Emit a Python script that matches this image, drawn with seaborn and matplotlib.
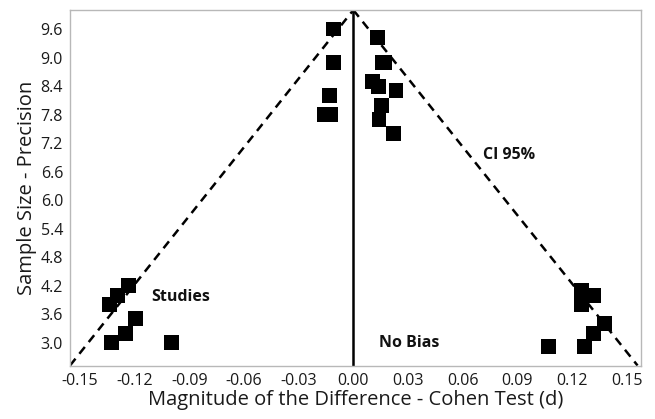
import matplotlib
matplotlib.use("Agg")
import matplotlib.pyplot as plt
import seaborn as sns
import numpy as np
import pandas as pd

# Studies: effect size (Cohen d) and precision
effect_d = [-0.011, -0.011, -0.013, -0.016, -0.0126,
            0.0132, 0.0158, 0.0174, 0.0106, 0.0137, 0.0234, 0.0156, 0.0141, 0.022,
            -0.1235, -0.1296, -0.134, -0.1198, -0.125, -0.1327, -0.0997,
            0.1253, 0.1253, 0.132, 0.138, 0.132, 0.127, 0.107]
precision = [9.6, 8.9, 8.2, 7.8, 7.8,
             9.42, 8.9, 8.9, 8.5, 8.4, 8.3, 8.0, 7.7, 7.4,
             4.2, 4.0, 3.8, 3.5, 3.2, 3.0, 3.0,
             4.1, 3.8, 4.0, 3.4, 3.2, 2.92, 2.92]

# 95% CI funnel lines
ci_left_x = [-0.1555, 0.0]
ci_left_y = [2.52, 10.0]
ci_right_x = [0.0, 0.156]
ci_right_y = [10.0, 2.52]

x_ticks = [-0.15, -0.12, -0.09, -0.06, -0.03, 0.00, 0.03, 0.06, 0.09, 0.12, 0.15]
y_ticks = [3.0, 3.6, 4.2, 4.8, 5.4, 6.0, 6.6, 7.2, 7.8, 8.4, 9.0, 9.6]

sns.set_theme(style="white")
plt.rcParams['font.family'] = ['Open Sans', 'DejaVu Sans']

fig = plt.figure(figsize=(6.55, 4.19), dpi=100)
ax = fig.add_axes([0.1069, 0.1272, 0.8712, 0.8489])

df = pd.DataFrame({"d": effect_d, "p": precision})
ci_l = pd.DataFrame({"x": ci_left_x, "y": ci_left_y})
ci_r = pd.DataFrame({"x": ci_right_x, "y": ci_right_y})

sns.lineplot(data=ci_l, x="x", y="y", ax=ax, color="black", lw=1.8,
             linestyle=(0, (3.5, 2.5)), sort=False, estimator=None)
sns.lineplot(data=ci_r, x="x", y="y", ax=ax, color="black", lw=1.8,
             linestyle=(0, (3.5, 2.5)), sort=False, estimator=None)
ax.axvline(0, color="black", lw=1.8)

sns.scatterplot(data=df, x="d", y="p", ax=ax, marker="s", s=115,
                color="black", edgecolor="none", linewidth=0, zorder=3)

ax.set_xlim(-0.1555, 0.1577)
ax.set_ylim(2.516, 10.0)
ax.set_xticks(x_ticks)
ax.set_xticklabels([f"{t:.2f}" for t in x_ticks])
ax.set_yticks(y_ticks)
ax.set_yticklabels([f"{t:.1f}" for t in y_ticks])

ax.tick_params(axis="both", labelsize=11.5, colors="#1a1a1a", length=3,
               width=0.8, direction="out", pad=2)
ax.tick_params(axis="both", color="#999999")
for s in ax.spines.values():
    s.set_color("#b8b8b8")
    s.set_linewidth(1.0)

ax.set_xlabel("Magnitude of the Difference - Cohen Test (d)", fontsize=14.5,
              color="#1a1a1a", labelpad=1)
ax.set_ylabel("Sample Size - Precision", fontsize=14.5, color="#1a1a1a",
              labelpad=3)

ax.text(0.0852, 6.95, "CI 95%", fontsize=11.5, fontweight="bold", ha="center",
        va="center", color="#111111")
ax.text(-0.0946, 3.97, "Studies", fontsize=11.5, fontweight="bold", ha="center",
        va="center", color="#111111")
ax.text(0.0306, 3.0, "No Bias", fontsize=11.5, fontweight="bold", ha="center",
        va="center", color="#111111")

fig.savefig("out.png", dpi=100)
